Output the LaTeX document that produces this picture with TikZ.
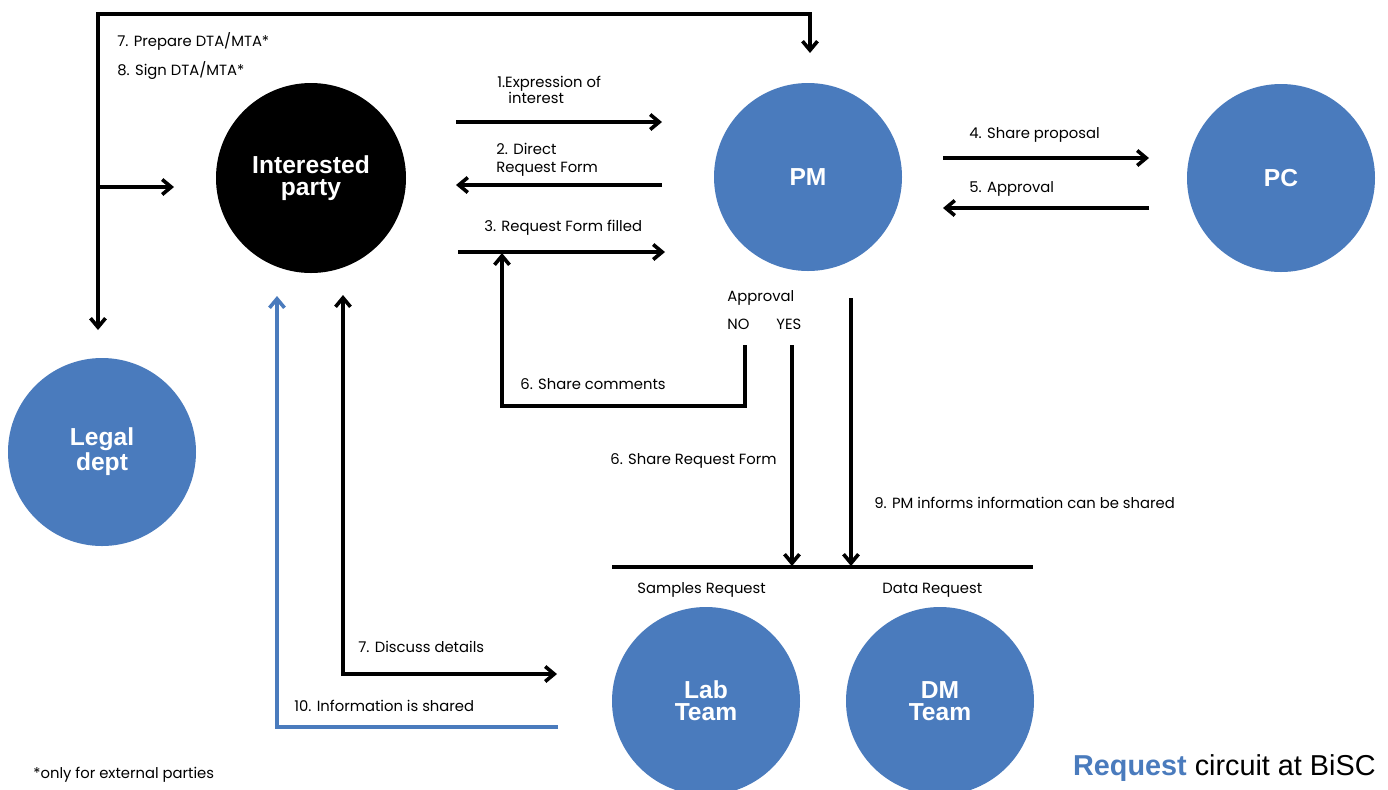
\documentclass[tikz,border=0pt]{standalone}
\usepackage{fontspec}
\setmainfont{Poppins}
\newfontfamily\arialf{Liberation Sans}
\usetikzlibrary{arrows.meta,calc}
\definecolor{bblue}{HTML}{4A7BBD}
\begin{document}
\begin{tikzpicture}[x=0.5pt,y=-0.5pt,
  conn/.style={line width=1.8pt,line join=miter,-{Straight Barb[length=4.5pt,width=7.5pt]}},
  dconn/.style={line width=1.8pt,line join=miter,{Straight Barb[length=4.5pt,width=7.5pt]}-{Straight Barb[length=4.5pt,width=7.5pt]}},
  plain/.style={line width=1.8pt,line join=miter},
  bub/.style={circle,fill=bblue,minimum size=94pt,inner sep=0pt,text=white,align=center,
    font=\arialf\bfseries\fontsize{12.3}{11}\selectfont},
  lbl/.style={anchor=base west,inner sep=0pt,font=\fontsize{7.4}{9}\selectfont}]
\useasboundingbox[fill=white] (0,0) rectangle (1388,789);

% circles
\node[bub,fill=black,minimum size=95pt] (ip) at (311,178) {Interested\\party};
\node[bub] (pm) at (808,177) {PM};
\node[bub] (pc) at (1281,178) {PC};
\node[bub,font=\arialf\bfseries\fontsize{12.3}{10.5}\selectfont] (legal) at (102,452) {Legal\\dept};
\node[bub] (lab) at (706,701) {Lab\\Team};
\node[bub] (dm) at (940,701) {DM\\Team};

% coordinates
\coordinate (tl) at (98,14);
\coordinate (tr) at (810,14);
\coordinate (tpm) at (810,53);
\coordinate (lleg) at (98,330);
\coordinate (lb) at (98,187);
\coordinate (lip) at (174,187);
\coordinate (a1s) at (456,122); \coordinate (a1e) at (662,122);
\coordinate (a2s) at (662,185); \coordinate (a2e) at (456,185);
\coordinate (a3s) at (458,252); \coordinate (a3e) at (665,252);
\coordinate (a4s) at (943,158); \coordinate (a4e) at (1149,158);
\coordinate (a5s) at (1149,208); \coordinate (a5e) at (943,208);
\coordinate (nos) at (745,345); \coordinate (noc) at (745,406);
\coordinate (nol) at (502,406); \coordinate (noe) at (502,253);
\coordinate (yess) at (792,345); \coordinate (yese) at (792,566);
\coordinate (n9s) at (851,298); \coordinate (n9e) at (851,566);
\coordinate (hl) at (612,567); \coordinate (hr) at (1033,567);
\coordinate (d7t) at (343,295); \coordinate (d7c) at (343,674); \coordinate (d7e) at (557,674);
\coordinate (b10s) at (558,727); \coordinate (b10c) at (277,727); \coordinate (b10e) at (277,296);

% connectors
\draw[dconn] (lleg) |- (tl) -| (tpm);
\draw[conn] (lb) -- (lip);
\draw[conn] (a1s) -- (a1e);
\draw[conn] (a2s) -- (a2e);
\draw[conn] (a3s) -- (a3e);
\draw[conn] (a4s) -- (a4e);
\draw[conn] (a5s) -- (a5e);
\draw[conn] (nos) -- (noc) -- (nol) -- (noe);
\draw[conn] (yess) -- (yese);
\draw[conn] (n9s) -- (n9e);
\draw[plain] (hl) -- (hr);
\draw[dconn] (d7t) -- (d7c) -- (d7e);
\draw[conn,bblue] (b10s) -- (b10c) -- (b10e);

% labels
\node[lbl] (t7) at (117,46) {7. Prepare DTA/MTA*};
\node[lbl] (t8) at (117,75) {8. Sign DTA/MTA*};
\node[lbl] (t1a) at (497,87) {1.Expression of};
\node[lbl] (t1b) at (508,103) {interest};
\node[lbl] (t2a) at (496,154) {2. Direct};
\node[lbl] (t2b) at (496,172) {Request Form};
\node[lbl] (t3) at (484,231) {3. Request Form filled};
\node[lbl] (t4) at (969,138) {4. Share proposal};
\node[lbl] (t5) at (969,192) {5. Approval};
\node[lbl] (tap) at (727,301) {Approval};
\node[lbl] (tno) at (727,329) {NO};
\node[lbl] (tyes) at (776,329) {YES};
\node[lbl] (t6c) at (520,389) {6. Share comments};
\node[lbl] (t6r) at (610,464) {6. Share Request Form};
\node[lbl] (t9) at (874,508) {9. PM informs information can be shared};
\node[lbl] (tsr) at (637,593) {Samples Request};
\node[lbl] (tdr) at (882,593) {Data Request};
\node[lbl] (t7d) at (358,652) {7. Discuss details};
\node[lbl] (t10) at (294,711) {10. Information is shared};
\node[lbl] (tfoot) at (33,778) {*only for external parties};
\node[anchor=base east,inner sep=0pt,font=\arialf\fontsize{14.4}{16}\selectfont] (title) at (1376,775)
  {\textcolor{bblue}{\bfseries Request} circuit at BiSC};
\end{tikzpicture}
\end{document}
